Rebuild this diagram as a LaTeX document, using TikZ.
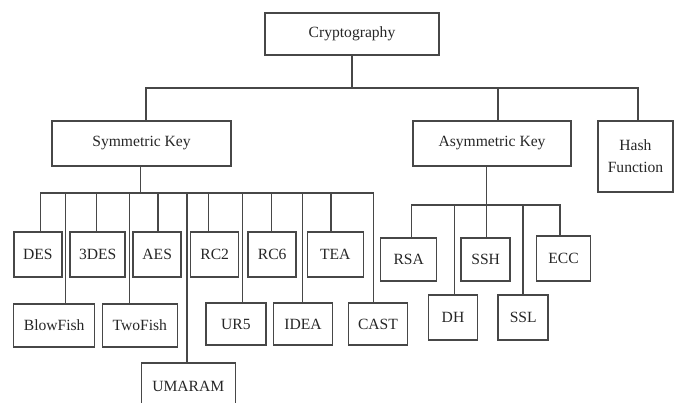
\documentclass[tikz,border=0pt]{standalone}
\usepackage{fontspec}
\setmainfont{Liberation Serif}
\usetikzlibrary{calc}

\begin{document}
\begin{tikzpicture}[
  x=1pt, y=-1pt,
  box/.style={draw=black!72, line width=1.5pt, inner sep=0pt, outer sep=0pt,
    text=black!85, font=\fontsize{15.6}{22}\selectfont, align=center},
  link/.style={draw=black!72, line width=1.5pt}
]
\useasboundingbox (0,0) rectangle (676,403);

% top level
\node[box, minimum width=174pt, minimum height=42pt] (crypto) at (352,34) {Cryptography};
\node[box, minimum width=179pt, minimum height=45pt] (sym) at (141.5,143.5) {Symmetric Key};
\node[box, minimum width=158pt, minimum height=45pt] (asym) at (492,143.5) {Asymmetric Key};
\node[box, minimum width=75pt, minimum height=71pt] (hash) at (635.5,156.5) {Hash\\Function};

% symmetric algorithms
\node[box, minimum width=48pt, minimum height=45pt] (des) at (37.8,254.5) {DES};
\node[box, minimum width=55pt, minimum height=45pt] (tdes) at (97.7,254.5) {3DES};
\node[box, minimum width=48pt, minimum height=45pt] (aes) at (157.2,254.5) {AES};
\node[box, minimum width=48pt, minimum height=45pt] (rctwo) at (214.7,254.5) {RC2};
\node[box, minimum width=48pt, minimum height=45pt] (rcsix) at (272.2,254.5) {RC6};
\node[box, minimum width=56pt, minimum height=45pt] (tea) at (335.3,254.5) {TEA};
\node[box, minimum width=81pt, minimum height=43pt] (blowfish) at (54.2,325.5) {BlowFish};
\node[box, minimum width=75pt, minimum height=43pt] (twofish) at (139.8,325.5) {TwoFish};
\node[box, minimum width=94pt, minimum height=46pt] (umaram) at (188.3,386) {UMARAM};
\node[box, minimum width=60pt, minimum height=42pt] (urfive) at (235.9,324) {UR5};
\node[box, minimum width=59pt, minimum height=42pt] (idea) at (303,324) {IDEA};
\node[box, minimum width=59pt, minimum height=42pt] (cast) at (378,324) {CAST};

% asymmetric algorithms
\node[box, minimum width=56pt, minimum height=43pt] (rsa) at (408.7,259.5) {RSA};
\node[box, minimum width=49pt, minimum height=43pt] (ssh) at (485.7,259.5) {SSH};
\node[box, minimum width=54pt, minimum height=45pt] (ecc) at (563.5,258.5) {ECC};
\node[box, minimum width=49pt, minimum height=45pt] (dh) at (453,317.5) {DH};
\node[box, minimum width=50pt, minimum height=45pt] (ssl) at (523.2,317.5) {SSL};

% connectors
\draw[link] (crypto.south) -- ++(0,33) coordinate (cb);
\foreach \n/\d in {sym/4.5, asym/6, hash/2.5}
  \draw[link] ([xshift=\d pt]\n.north) |- (cb);

\draw[link] ([xshift=-1.2pt]sym.south) -- ++(0,27) coordinate (sb);
\foreach \n/\d in {des/2.9, blowfish/11.5, tdes/-1, twofish/-10.5, aes/0.8, umaram/-1.3,
  rctwo/-6.4, urfive/6.8, rcsix/-0.5, idea/-0.7, tea/-4.3, cast/-4.7}
  \draw[link] ([xshift=\d pt]\n.north) |- (sb);

\draw[link] ([xshift=-5.7pt]asym.south) -- ++(0,39) coordinate (ab);
\foreach \n/\d in {rsa/3, dh/1.3, ssh/0.6, ssl/0, ecc/-3.5}
  \draw[link] ([xshift=\d pt]\n.north) |- (ab);
\end{tikzpicture}
\end{document}
